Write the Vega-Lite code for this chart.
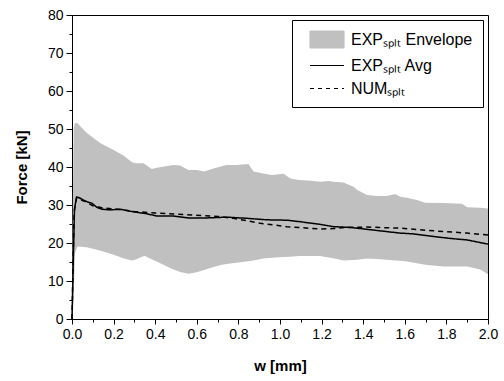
{
  "$schema": "https://vega.github.io/schema/vega-lite/v6.json",
  "width": 416,
  "height": 304,
  "autosize": {"type": "none"},
  "padding": {"left": 72, "top": 15, "right": 16, "bottom": 62},
  "config": {
    "font": "Liberation Sans",
    "view": {"stroke": "black", "strokeWidth": 1},
    "axis": {
      "domainColor": "black",
      "tickColor": "black",
      "labelColor": "black",
      "titleColor": "black",
      "labelFont": "Liberation Sans",
      "titleFont": "Liberation Sans",
      "labelFontSize": 14,
      "titleFontSize": 15,
      "titleFontWeight": "bold",
      "grid": false,
      "labelFlush": false,
      "labelOverlap": false
    },
    "legend": {
      "orient": "top-right",
      "offset": 5,
      "padding": 10,
      "strokeColor": "black",
      "fillColor": "white",
      "symbolSize": 289,
      "symbolType": "stroke",
      "symbolOffset": 15.5,
      "symbolStrokeWidth": 1.2,
      "symbolStrokeColor": "#222222",
      "labelOffset": 14.5,
      "labelFont": "Liberation Sans",
      "labelFontSize": 16,
      "labelColor": "black",
      "rowPadding": 5
    }
  },
  "datasets": {
    "envelope": [
      {"w": 0.0, "lo": 0, "hi": 0},
      {"w": 0.004, "lo": 1, "hi": 30},
      {"w": 0.008, "lo": 6, "hi": 50},
      {"w": 0.014, "lo": 17.3, "hi": 51.6},
      {"w": 0.026, "lo": 19.1, "hi": 51.5},
      {"w": 0.07, "lo": 18.9, "hi": 49.0},
      {"w": 0.135, "lo": 18.0, "hi": 46.3},
      {"w": 0.2, "lo": 16.9, "hi": 44.5},
      {"w": 0.247, "lo": 16.0, "hi": 43.0},
      {"w": 0.287, "lo": 15.4, "hi": 41.3},
      {"w": 0.303, "lo": 15.6, "hi": 41.0},
      {"w": 0.311, "lo": 15.8, "hi": 41.0},
      {"w": 0.343, "lo": 16.5, "hi": 41.0},
      {"w": 0.351, "lo": 16.6, "hi": 40.7},
      {"w": 0.383, "lo": 15.7, "hi": 39.5},
      {"w": 0.407, "lo": 15.1, "hi": 39.8},
      {"w": 0.472, "lo": 13.4, "hi": 40.4},
      {"w": 0.488, "lo": 13.0, "hi": 40.5},
      {"w": 0.52, "lo": 12.4, "hi": 40.4},
      {"w": 0.56, "lo": 11.9, "hi": 39.2},
      {"w": 0.6, "lo": 12.3, "hi": 39.2},
      {"w": 0.635, "lo": 12.9, "hi": 38.8},
      {"w": 0.68, "lo": 13.7, "hi": 39.6},
      {"w": 0.72, "lo": 14.3, "hi": 40.2},
      {"w": 0.744, "lo": 14.5, "hi": 40.5},
      {"w": 0.79, "lo": 14.8, "hi": 40.5},
      {"w": 0.848, "lo": 15.2, "hi": 40.8},
      {"w": 0.873, "lo": 15.4, "hi": 38.8},
      {"w": 0.92, "lo": 15.9, "hi": 38.3},
      {"w": 0.96, "lo": 16.1, "hi": 37.9},
      {"w": 1.017, "lo": 16.3, "hi": 38.2},
      {"w": 1.05, "lo": 16.4, "hi": 37.0},
      {"w": 1.089, "lo": 16.6, "hi": 36.6},
      {"w": 1.153, "lo": 16.6, "hi": 36.4},
      {"w": 1.193, "lo": 16.6, "hi": 36.1},
      {"w": 1.233, "lo": 16.2, "hi": 36.3},
      {"w": 1.257, "lo": 16.0, "hi": 36.1},
      {"w": 1.305, "lo": 15.4, "hi": 35.9},
      {"w": 1.354, "lo": 15.5, "hi": 34.8},
      {"w": 1.37, "lo": 15.6, "hi": 34.0},
      {"w": 1.418, "lo": 15.9, "hi": 32.6},
      {"w": 1.466, "lo": 15.8, "hi": 32.4},
      {"w": 1.514, "lo": 15.6, "hi": 32.4},
      {"w": 1.554, "lo": 15.4, "hi": 32.9},
      {"w": 1.578, "lo": 15.3, "hi": 32.2},
      {"w": 1.61, "lo": 15.1, "hi": 31.9},
      {"w": 1.658, "lo": 14.7, "hi": 31.3},
      {"w": 1.698, "lo": 14.3, "hi": 30.6},
      {"w": 1.787, "lo": 13.8, "hi": 30.5},
      {"w": 1.875, "lo": 13.8, "hi": 30.3},
      {"w": 1.9, "lo": 13.8, "hi": 29.4},
      {"w": 1.963, "lo": 13.0, "hi": 29.3},
      {"w": 2.0, "lo": 11.8, "hi": 29.1}
    ],
    "curves": [
      {"w": 0.0, "f": 0, "s": "avg"},
      {"w": 0.006, "f": 15, "s": "avg"},
      {"w": 0.012, "f": 29, "s": "avg"},
      {"w": 0.022, "f": 32.1, "s": "avg"},
      {"w": 0.035, "f": 31.9, "s": "avg"},
      {"w": 0.055, "f": 31.3, "s": "avg"},
      {"w": 0.079, "f": 30.7, "s": "avg"},
      {"w": 0.095, "f": 30.5, "s": "avg"},
      {"w": 0.119, "f": 29.4, "s": "avg"},
      {"w": 0.143, "f": 28.9, "s": "avg"},
      {"w": 0.183, "f": 28.7, "s": "avg"},
      {"w": 0.231, "f": 28.9, "s": "avg"},
      {"w": 0.295, "f": 28.2, "s": "avg"},
      {"w": 0.359, "f": 27.7, "s": "avg"},
      {"w": 0.407, "f": 27.1, "s": "avg"},
      {"w": 0.488, "f": 27.1, "s": "avg"},
      {"w": 0.56, "f": 26.6, "s": "avg"},
      {"w": 0.648, "f": 26.6, "s": "avg"},
      {"w": 0.744, "f": 26.8, "s": "avg"},
      {"w": 0.84, "f": 26.5, "s": "avg"},
      {"w": 0.937, "f": 26.1, "s": "avg"},
      {"w": 1.033, "f": 26.0, "s": "avg"},
      {"w": 1.097, "f": 25.6, "s": "avg"},
      {"w": 1.193, "f": 24.9, "s": "avg"},
      {"w": 1.257, "f": 24.3, "s": "avg"},
      {"w": 1.338, "f": 24.1, "s": "avg"},
      {"w": 1.418, "f": 23.6, "s": "avg"},
      {"w": 1.498, "f": 23.1, "s": "avg"},
      {"w": 1.578, "f": 22.6, "s": "avg"},
      {"w": 1.642, "f": 22.4, "s": "avg"},
      {"w": 1.739, "f": 21.7, "s": "avg"},
      {"w": 1.819, "f": 21.2, "s": "avg"},
      {"w": 1.9, "f": 20.8, "s": "avg"},
      {"w": 2.0, "f": 19.7, "s": "avg"},
      {"w": 0.0, "f": 0, "s": "num"},
      {"w": 0.005, "f": 14, "s": "num"},
      {"w": 0.01, "f": 28, "s": "num"},
      {"w": 0.022, "f": 31.8, "s": "num"},
      {"w": 0.06, "f": 31.0, "s": "num"},
      {"w": 0.1, "f": 29.8, "s": "num"},
      {"w": 0.15, "f": 29.2, "s": "num"},
      {"w": 0.2, "f": 29.0, "s": "num"},
      {"w": 0.3, "f": 28.3, "s": "num"},
      {"w": 0.4, "f": 27.9, "s": "num"},
      {"w": 0.5, "f": 27.6, "s": "num"},
      {"w": 0.6, "f": 27.3, "s": "num"},
      {"w": 0.7, "f": 27.0, "s": "num"},
      {"w": 0.776, "f": 26.5, "s": "num"},
      {"w": 0.905, "f": 25.2, "s": "num"},
      {"w": 1.033, "f": 24.3, "s": "num"},
      {"w": 1.193, "f": 23.7, "s": "num"},
      {"w": 1.257, "f": 23.8, "s": "num"},
      {"w": 1.32, "f": 24.1, "s": "num"},
      {"w": 1.418, "f": 24.2, "s": "num"},
      {"w": 1.578, "f": 23.9, "s": "num"},
      {"w": 1.739, "f": 23.2, "s": "num"},
      {"w": 1.9, "f": 22.6, "s": "num"},
      {"w": 2.0, "f": 22.1, "s": "num"}
    ]
  },
  "encoding": {
    "x": {
      "field": "w",
      "type": "quantitative",
      "title": "w [mm]",
      "scale": {"domain": [0, 2], "nice": false, "zero": false},
      "axis": {
        "values": [0, 0.1, 0.2, 0.3, 0.4, 0.5, 0.6, 0.7, 0.8, 0.9, 1.0, 1.1, 1.2, 1.3, 1.4, 1.5, 1.6, 1.7, 1.8, 1.9, 2.0],
        "labelExpr": "round(datum.value*10) % 2 == 0 ? format(datum.value, '.1f') : ''",
        "tickSize": {"condition": {"test": "round(datum.value*10) % 2 == 1", "value": 3}, "value": 5},
        "labelPadding": 3,
        "titlePadding": 17
      }
    }
  },
  "layer": [
    {
      "data": {"name": "envelope"},
      "mark": {"type": "area", "opacity": 1},
      "encoding": {
        "y": {
          "field": "lo",
          "type": "quantitative",
          "title": "Force [kN]",
          "scale": {"domain": [0, 80], "nice": false},
          "axis": {
            "values": [0, 5, 10, 15, 20, 25, 30, 35, 40, 45, 50, 55, 60, 65, 70, 75, 80],
            "labelExpr": "datum.value % 10 == 0 ? format(datum.value, 'd') : ''",
            "tickSize": {"condition": {"test": "datum.value % 10 == 5", "value": 3}, "value": 6},
            "labelPadding": 3,
            "titlePadding": 18
          }
        },
        "y2": {"field": "hi"},
        "color": {
          "datum": "env",
          "scale": {"domain": ["env", "avg", "num"], "range": ["#c0c0c0", "black", "black"]},
          "legend": {
            "title": null,
            "labelExpr": "datum.value == 'env' ? 'EXPₛₚₗₜ Envelope' : datum.value == 'avg' ? 'EXPₛₚₗₜ Avg' : 'NUMₛₚₗₜ'",
            "encode": {
              "symbols": {
                "update": {
                  "shape": {"signal": "datum.value == 'env' ? 'M-2,-1H2V1H-2Z' : 'M-2,0H2'"},
                  "size": {"value": 289},
                  "fill": {"signal": "datum.value == 'env' ? '#c0c0c0' : 'transparent'"},
                  "stroke": {"signal": "datum.value == 'env' ? '#404040' : 'black'"},
                  "strokeDash": {"signal": "datum.value == 'num' ? [4, 4] : [1, 0]"},
                  "strokeWidth": {"value": 1.2},
                  "opacity": {"value": 1}
                }
              }
            }
          }
        }
      }
    },
    {
      "data": {"name": "curves"},
      "mark": {"type": "line", "strokeWidth": 1.5},
      "encoding": {
        "y": {
          "field": "f",
          "type": "quantitative",
          "title": "Force [kN]",
          "axis": {
            "values": [0, 5, 10, 15, 20, 25, 30, 35, 40, 45, 50, 55, 60, 65, 70, 75, 80],
            "labelExpr": "datum.value % 10 == 0 ? format(datum.value, 'd') : ''",
            "tickSize": {"condition": {"test": "datum.value % 10 == 5", "value": 3}, "value": 6},
            "labelPadding": 3,
            "titlePadding": 18
          }
        },
        "color": {
          "field": "s",
          "type": "nominal",
          "legend": {
            "title": null,
            "labelExpr": "datum.value == 'env' ? 'EXPₛₚₗₜ Envelope' : datum.value == 'avg' ? 'EXPₛₚₗₜ Avg' : 'NUMₛₚₗₜ'",
            "encode": {
              "symbols": {
                "update": {
                  "shape": {"signal": "datum.value == 'env' ? 'M-2,-1H2V1H-2Z' : 'M-2,0H2'"},
                  "size": {"value": 289},
                  "fill": {"signal": "datum.value == 'env' ? '#c0c0c0' : 'transparent'"},
                  "stroke": {"signal": "datum.value == 'env' ? '#404040' : 'black'"},
                  "strokeDash": {"signal": "datum.value == 'num' ? [4, 4] : [1, 0]"},
                  "strokeWidth": {"value": 1.2},
                  "opacity": {"value": 1}
                }
              }
            }
          }
        },
        "strokeDash": {
          "field": "s",
          "type": "nominal",
          "scale": {"domain": ["avg", "num"], "range": [[1, 0], [5, 4]]},
          "legend": null
        }
      }
    }
  ]
}
